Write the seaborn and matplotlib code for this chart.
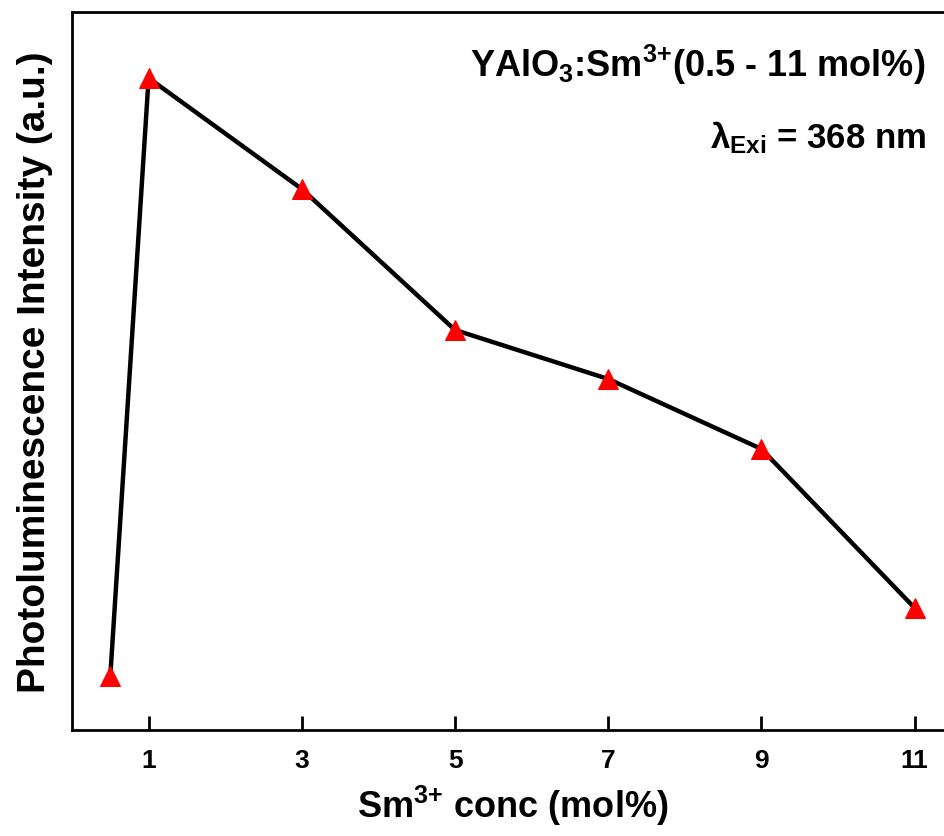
import matplotlib
matplotlib.use('Agg')
import matplotlib.pyplot as plt
import seaborn as sns
import pandas as pd

# Sm3+ concentration (mol%) and PL intensity (arbitrary units)
conc = [0.5, 1, 3, 5, 7, 9, 11]
intensity = [54, 652, 541, 400, 351, 281, 122]
xticks = [1, 3, 5, 7, 9, 11]

df = pd.DataFrame({'conc': conc, 'intensity': intensity})

sns.set_style('ticks')
plt.rcParams['font.family'] = ['Liberation Sans', 'DejaVu Sans']
plt.rcParams['mathtext.fontset'] = 'custom'
plt.rcParams['mathtext.rm'] = 'Liberation Sans:bold'
plt.rcParams['mathtext.it'] = 'Liberation Sans:bold'
plt.rcParams['mathtext.bf'] = 'Liberation Sans:bold'
plt.rcParams['text.color'] = 'black'
plt.rcParams['axes.labelcolor'] = 'black'
plt.rcParams['xtick.color'] = 'black'

fig = plt.figure(figsize=(9.45, 8.37), dpi=100)
# axes run past the right edge, as in the cropped original
ax = fig.add_axes([72 / 945, (837 - 731) / 837, 881 / 945, 718 / 837])

sns.lineplot(data=df, x='conc', y='intensity', ax=ax, color='black', lw=3.2,
             marker='^', markersize=15, markerfacecolor='red',
             markeredgecolor='red', zorder=3)
ax.lines[0].set_clip_on(False)

ax.set_xlim(0, 11.5)
ax.set_ylim(0, 718)
ax.set_xticks(xticks)
ax.set_xticklabels([str(t) for t in xticks], fontsize=19, fontweight='bold')
ax.set_yticks([])
ax.tick_params(axis='x', direction='in', length=10, width=2, pad=13)

for s in ax.spines.values():
    s.set_linewidth(2)
    s.set_color('black')

ax.set_xlabel(r'Sm$^{3{+}}$ conc (mol%)', fontsize=26, fontweight='bold', labelpad=8)
ax.set_ylabel('Photoluminescence Intensity (a.u.)', fontsize=28, fontweight='bold', labelpad=14)

ax.text(0.969, 0.928, r'YAlO$_3$:Sm$^{3{+}}$(0.5 - 11 mol%)', transform=ax.transAxes,
        ha='right', va='center', fontsize=26, fontweight='bold')
ax.text(0.969, 0.826, r'$\lambda_{Exi}$ = 368 nm', transform=ax.transAxes,
        ha='right', va='center', fontsize=25, fontweight='bold')

fig.savefig('out.png', dpi=100)
